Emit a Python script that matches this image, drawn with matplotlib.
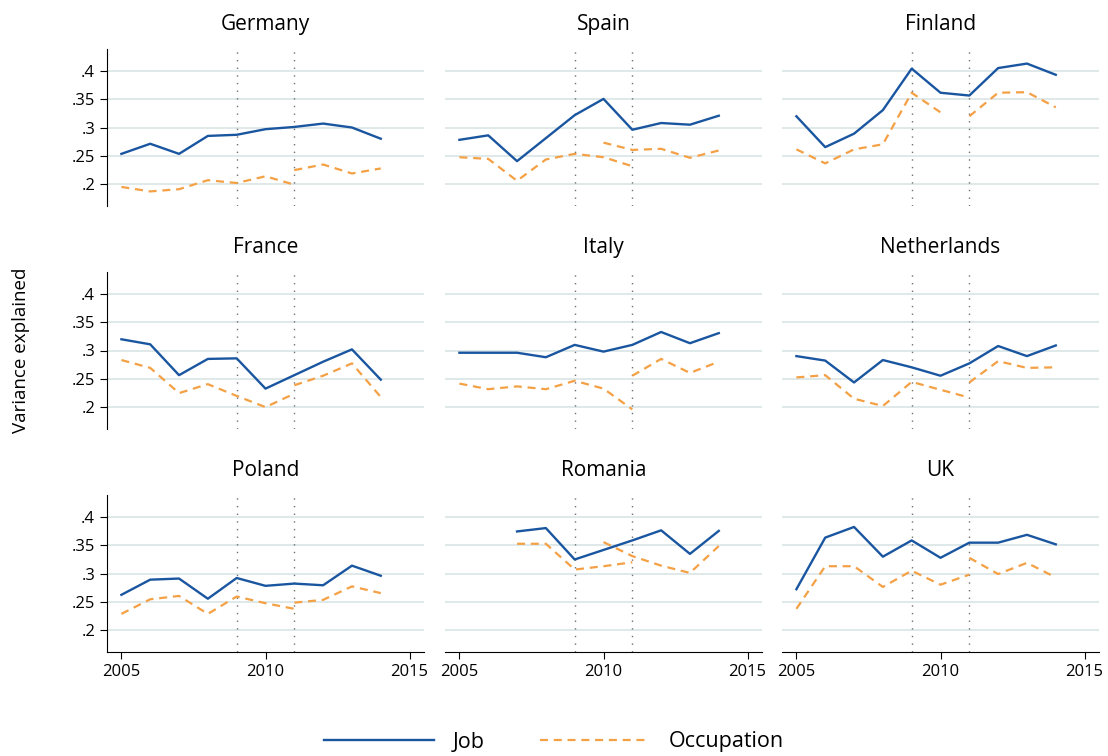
import numpy as np
import matplotlib
matplotlib.use('Agg')
import matplotlib.pyplot as plt

nan = np.nan
years = list(range(2005, 2015))
countries = ['Germany', 'Spain', 'Finland', 'France', 'Italy', 'Netherlands',
             'Poland', 'Romania', 'UK']

# job-level variance explained
job_de = [0.253, 0.271, 0.253, 0.285, 0.287, 0.297, 0.301, 0.307, 0.300, 0.280]
job_es = [0.278, 0.286, 0.240, 0.281, 0.322, 0.351, 0.296, 0.308, 0.305, 0.321]
job_fi = [0.320, 0.265, 0.289, 0.331, 0.405, 0.362, 0.357, 0.406, 0.414, 0.394]
job_fr = [0.320, 0.311, 0.256, 0.285, 0.286, 0.232, 0.256, 0.280, 0.302, 0.248]
job_it = [0.296, 0.296, 0.296, 0.288, 0.310, 0.298, 0.310, 0.333, 0.313, 0.331]
job_nl = [0.290, 0.282, 0.243, 0.283, 0.270, 0.255, 0.277, 0.308, 0.290, 0.309]
job_pl = [0.262, 0.289, 0.291, 0.255, 0.292, 0.278, 0.282, 0.279, 0.314, 0.296]
job_ro = [nan, nan, 0.375, 0.381, 0.325, 0.342, 0.359, 0.377, 0.335, 0.376]
job_uk = [0.272, 0.364, 0.383, 0.330, 0.359, 0.328, 0.355, 0.355, 0.369, 0.352]

# occupation, old classification (up to 2010/2011)
occ_old_de = [0.194, 0.186, 0.190, 0.206, 0.201, 0.213, 0.198, nan, nan, nan]
occ_old_es = [0.247, 0.244, 0.205, 0.243, 0.253, 0.247, 0.231, nan, nan, nan]
occ_old_fi = [0.261, 0.236, 0.261, 0.270, 0.362, 0.327, nan, nan, nan, nan]
occ_old_fr = [0.283, 0.269, 0.224, 0.240, 0.219, 0.199, 0.223, nan, nan, nan]
occ_old_it = [0.241, 0.231, 0.236, 0.231, 0.246, 0.232, 0.195, nan, nan, nan]
occ_old_nl = [0.252, 0.256, 0.214, 0.201, 0.244, 0.230, 0.216, nan, nan, nan]
occ_old_pl = [0.228, 0.254, 0.260, 0.228, 0.259, 0.247, 0.237, nan, nan, nan]
occ_old_ro = [nan, nan, 0.353, 0.353, 0.307, 0.313, 0.320, nan, nan, nan]
occ_old_uk = [0.237, 0.313, 0.313, 0.276, 0.305, 0.280, 0.298, nan, nan, nan]

# occupation, new classification (from 2010/2011)
occ_new_de = [nan, nan, nan, nan, nan, nan, 0.224, 0.234, 0.218, 0.227]
occ_new_es = [nan, nan, nan, nan, nan, 0.273, 0.260, 0.262, 0.246, 0.259]
occ_new_fi = [nan, nan, nan, nan, nan, nan, 0.320, 0.362, 0.363, 0.336]
occ_new_fr = [nan, nan, nan, nan, nan, nan, 0.238, 0.255, 0.277, 0.217]
occ_new_it = [nan, nan, nan, nan, nan, nan, 0.255, 0.285, 0.260, 0.280]
occ_new_nl = [nan, nan, nan, nan, nan, nan, 0.243, 0.281, 0.269, 0.270]
occ_new_pl = [nan, nan, nan, nan, nan, nan, 0.248, 0.253, 0.277, 0.265]
occ_new_ro = [nan, nan, nan, nan, nan, 0.356, 0.331, 0.314, 0.301, 0.349]
occ_new_uk = [nan, nan, nan, nan, nan, nan, 0.328, 0.299, 0.319, 0.293]

yticks = [0.2, 0.25, 0.3, 0.35, 0.4]
ytick_labels = ['.2', '.25', '.3', '.35', '.4']
xticks = [2005, 2010, 2015]
break_years = [2009, 2011]

jobs = [job_de, job_es, job_fi, job_fr, job_it, job_nl, job_pl, job_ro, job_uk]
occ_old = [occ_old_de, occ_old_es, occ_old_fi, occ_old_fr, occ_old_it,
           occ_old_nl, occ_old_pl, occ_old_ro, occ_old_uk]
occ_new = [occ_new_de, occ_new_es, occ_new_fi, occ_new_fr, occ_new_it,
           occ_new_nl, occ_new_pl, occ_new_ro, occ_new_uk]

plt.rcParams['font.family'] = ['Open Sans', 'DejaVu Sans']

W, H = 1108, 756
fig = plt.figure(figsize=(W / 100, H / 100), dpi=100)

blue = '#1a56a0'
orange = '#f4a045'
gridc = '#e0e9e9'
dash = (0, (3.6, 2.6))

lefts = [107, 445, 782]
tops = [49, 272, 495]
aw, ah = 317, 157

for i, name in enumerate(countries):
    r, c = divmod(i, 3)
    ax = fig.add_axes([lefts[c] / W, 1 - (tops[r] + ah) / H, aw / W, ah / H])
    ax.set_xlim(2004.5, 2015.5)
    ax.set_ylim(0.16, 0.44)
    for yv in yticks:
        ax.axhline(yv, color=gridc, lw=1.4, zorder=0)
    for bx in break_years:
        ax.axvline(bx, color='#707070', lw=1.0, ls=(0, (1, 4.5)), zorder=1)
    ln1, = ax.plot(years, jobs[i], color=blue, lw=1.7, zorder=3)
    ln2, = ax.plot(years, occ_old[i], color=orange, lw=1.6, ls=dash, zorder=2)
    ax.plot(years, occ_new[i], color=orange, lw=1.6, ls=dash, zorder=2)
    ax.set_title(name, fontsize=15, pad=14)
    for s in ['top', 'right']:
        ax.spines[s].set_visible(False)
    ax.spines['left'].set_visible(c == 0)
    ax.spines['bottom'].set_visible(r == 2)
    if c == 0:
        ax.set_yticks(yticks)
        ax.set_yticklabels(ytick_labels)
        ax.tick_params(axis='y', length=5, labelsize=12)
    else:
        ax.set_yticks([])
    if r == 2:
        ax.set_xticks(xticks)
        ax.tick_params(axis='x', length=5, labelsize=12)
    else:
        ax.set_xticks([])
    if r == 1 and c == 0:
        ax.set_ylabel('Variance explained', fontsize=13.5, labelpad=30)

fig.legend([ln1, ln2], ['Job', 'Occupation'], loc='center', ncol=2,
           bbox_to_anchor=(0.5, 1 - 742 / H), frameon=False, fontsize=15.5,
           handlelength=5.1, columnspacing=2.6, handletextpad=0.85)

fig.savefig('out.png', dpi=100)
